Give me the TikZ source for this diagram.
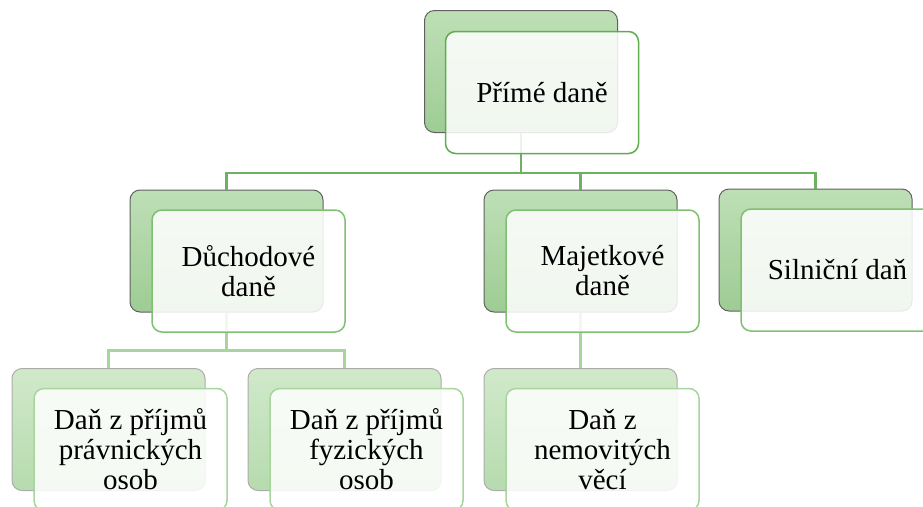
\documentclass[tikz,border=0pt]{standalone}
\usepackage{fontspec}
\setmainfont{Liberation Serif}
\newfontfamily\boxfont{Liberation Serif}
\usetikzlibrary{positioning,calc}
\definecolor{backtop}{RGB}{190,223,182}
\definecolor{backbot}{RGB}{158,204,148}
\definecolor{leaftop}{RGB}{208,233,202}
\definecolor{leafbot}{RGB}{182,219,174}
\definecolor{frameA}{RGB}{96,172,80}
\definecolor{frameB}{RGB}{128,192,114}
\definecolor{frameC}{RGB}{168,213,158}
\definecolor{linkA}{RGB}{108,178,96}
\definecolor{linkB}{RGB}{168,212,158}

\begin{document}
\begin{tikzpicture}[
  x=1pt, y=-1pt,
  font=\boxfont\fontsize{29}{30}\selectfont,
  every node/.style={align=center},
  back/.style={draw=gray!75!black, line width=1pt, rounded corners=10pt,
               minimum width=193pt, minimum height=122pt,
               top color=backtop, bottom color=backbot},
  backleaf/.style={back, draw=gray!65, top color=leaftop, bottom color=leafbot},
  front/.style={draw=frameA, line width=1.5pt, rounded corners=10pt,
                minimum width=193pt, minimum height=122pt,
                fill=white, fill opacity=0.86, text opacity=1},
  link/.style={line width=2.6pt, draw=linkA},
  linkleaf/.style={link, draw=linkB},
]
\useasboundingbox (0,0) rectangle (923,506);
\clip (0,0) rectangle (923,506);

% back boxes
\node[back]     (prime)  at (521,71.5)  {};
\node[back]     (duch)   at (226.5,251) {};
\node[back]     (maj)    at (580.5,251) {};
\node[back]     (siln)   at (815.5,250) {};
\node[backleaf] (prav)   at (108.5,429.5) {};
\node[backleaf] (fyz)    at (344.5,429.5) {};
\node[backleaf] (nem)    at (580.5,429.5) {};

% connectors
\coordinate (bus1) at ($(prime.south)+(0,40)$);
\coordinate (bus2) at ($(duch.south)+(0,38)$);
\draw[link] (prime.south) -- (bus1);
\foreach \c in {duch,maj,siln}{
  \draw[link] (bus1) -| (\c.north);
}
\draw[linkleaf] (duch.south) -- (bus2);
\foreach \c in {prav,fyz}{
  \draw[linkleaf] (bus2) -| (\c.north);
}
\draw[linkleaf] (maj.south) -- (nem.north);

% front boxes with text
\node[front]              (primeF) at ($(prime)+(21,21)$) {Přímé daně};
\node[front, draw=frameB] (duchF)  at ($(duch)+(22,20)$)  {Důchodové\\daně};
\node[front, draw=frameB] (majF)   at ($(maj)+(22,20)$)   {Majetkové\\daně};
\node[front, draw=frameB] (silnF)  at ($(siln)+(22,20)$)  {Silniční daň};
\node[front, draw=frameC] (pravF)  at ($(prav)+(22,20)$)  {Daň z příjmů\\právnických\\osob};
\node[front, draw=frameC] (fyzF)   at ($(fyz)+(22,20)$)   {Daň z příjmů\\fyzických\\osob};
\node[front, draw=frameC] (nemF)   at ($(nem)+(22,20)$)   {Daň z\\nemovitých\\věcí};

\end{tikzpicture}
\end{document}
